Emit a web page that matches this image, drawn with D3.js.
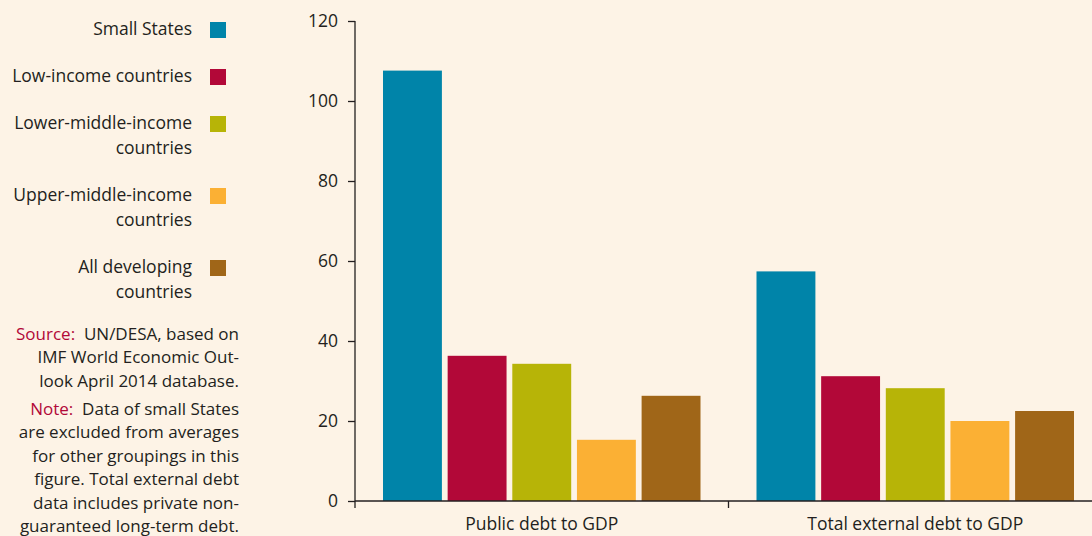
<!DOCTYPE html>
<html>
<head>
<meta charset="utf-8">
<script src="https://cdn.jsdelivr.net/npm/d3@7"></script>
<style>
  html, body { margin: 0; padding: 0; background: #fdf3e6; }
  svg { display: block; font-family: "Open Sans", "Noto Sans", sans-serif; }
</style>
</head>
<body>
<svg id="chart"></svg>
<script>
// debt ratios, per cent of GDP

const categories = ["Public debt to GDP", "Total external debt to GDP"];
const seriesNames = ["Small States", "Low-income countries", "Lower-middle-income countries",
	"Upper-middle-income countries", "All developing countries"];
const legendLines = [
	["Small States"],
	["Low-income countries"],
	["Lower-middle-income", "countries"],
	["Upper-middle-income", "countries"],
	["All developing", "countries"]
];
const smallStates = [107.6, 57.4];
const lowIncome = [36.3, 31.2];
const lowerMiddle = [34.3, 28.2];
const upperMiddle = [15.3, 20.0];
const allDeveloping = [26.3, 22.5];
const yTicks = [0, 20, 40, 60, 80, 100, 120];
const colors = ["#0084a9", "#b20838", "#b7b407", "#fbb034", "#a06618"];

const noteSource = ["UN/DESA, based on", "IMF World Economic Out-", "look April 2014 database."];
const noteText = ["Data of small States", "are excluded from averages", "for other groupings in this",
	"figure. Total external debt", "data includes private non-", "guaranteed long-term debt."];

const seriesValues = [smallStates, lowIncome, lowerMiddle, upperMiddle, allDeveloping];

const width = 1092, height = 536;
const textColor = "#231f20";
const red = "#b20838";

const svg = d3.select("#chart")
	.attr("width", width)
	.attr("height", height)
	.attr("viewBox", `0 0 ${width} ${height}`);

svg.append("rect").attr("width", width).attr("height", height).attr("fill", "#fdf3e6");

// scales
const y = d3.scaleLinear().domain([0, 120]).range([501, 21]);
const x0 = d3.scaleBand().domain(categories).range([355, 1102]).padding(0);
const x1 = d3.scaleBand().domain(seriesNames)
	.range([28, x0.bandwidth() - 28])
	.paddingInner(0.089).paddingOuter(0);

// bars
const groups = svg.append("g").selectAll("g")
	.data(categories)
	.join("g")
	.attr("transform", d => `translate(${x0(d)},0)`);

groups.selectAll("rect")
	.data((c, ci) => seriesNames.map((s, si) => ({ s, si, v: seriesValues[si][ci] })))
	.join("rect")
	.attr("x", d => x1(d.s))
	.attr("width", x1.bandwidth())
	.attr("y", d => y(d.v))
	.attr("height", d => y(0) - y(d.v))
	.attr("fill", d => colors[d.si]);

// y axis
const yAxis = svg.append("g")
	.attr("transform", "translate(355,0)")
	.call(d3.axisLeft(y).tickValues(yTicks).tickSize(7).tickPadding(10).tickSizeOuter(0));
yAxis.select(".domain").remove();
yAxis.append("line")
	.attr("x1", 0).attr("x2", 0)
	.attr("y1", y(120)).attr("y2", y(0) + 7)
	.attr("stroke", textColor).attr("stroke-width", 1.3);
yAxis.selectAll(".tick line").attr("stroke", textColor).attr("stroke-width", 1.3);
yAxis.selectAll(".tick text")
	.attr("fill", textColor)
	.attr("font-size", 17.5)
	.attr("font-family", "'Open Sans', sans-serif");

// x axis
const xAxis = svg.append("g").attr("transform", `translate(0,${y(0)})`);
xAxis.append("line")
	.attr("x1", 355).attr("x2", width)
	.attr("stroke", textColor).attr("stroke-width", 1.3);
xAxis.selectAll(".cat-tick")
	.data(categories.slice(1))
	.join("line")
	.attr("class", "cat-tick")
	.attr("x1", d => x0(d)).attr("x2", d => x0(d))
	.attr("y1", 0).attr("y2", 7)
	.attr("stroke", textColor).attr("stroke-width", 1.3);
xAxis.selectAll("text")
	.data(categories)
	.join("text")
	.attr("x", d => x0(d) + x0.bandwidth() / 2)
	.attr("y", 29)
	.attr("text-anchor", "middle")
	.attr("fill", textColor)
	.attr("font-size", 17.5)
	.text(d => d);

// legend
const legend = svg.append("g");
let ly = 29;
legendLines.forEach((lines, i) => {
	const row = legend.append("g");
	lines.forEach((line, li) => {
		row.append("text")
			.attr("x", 192)
			.attr("y", ly + li * 25)
			.attr("dy", "0.35em")
			.attr("text-anchor", "end")
			.attr("fill", textColor)
			.attr("font-size", 17.5)
			.text(line);
	});
	row.append("rect")
		.attr("x", 210).attr("y", ly - 7)
		.attr("width", 16).attr("height", 16)
		.attr("fill", colors[i]);
	ly += lines.length * 25 + 22;
});

// source and note
const notes = svg.append("g").attr("font-size", 17).attr("fill", textColor);
function block(label, lines, startY) {
	lines.forEach((line, i) => {
		const t = notes.append("text")
			.attr("x", 239)
			.attr("y", startY + i * 23.4)
			.attr("dy", "0.35em")
			.attr("text-anchor", "end");
		if (i === 0) {
			t.append("tspan").attr("fill", red).text(label + "\u00a0\u00a0");
		}
		t.append("tspan").text(line);
	});
}
block("Source:", noteSource, 334);
block("Note:", noteText, 409);
</script>
</body>
</html>
